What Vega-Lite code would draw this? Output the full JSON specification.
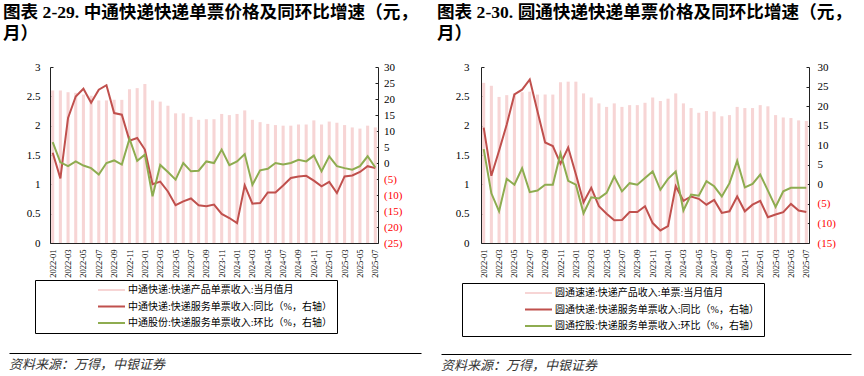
{
  "$schema": "https://vega.github.io/schema/vega-lite/v6.json",
  "padding": {"left": 3, "top": 4, "right": 0, "bottom": 0},
  "config": {
    "view": {"stroke": null},
    "font": "'Liberation Serif', 'Noto Sans CJK SC'",
    "axis": {"grid": false, "domainColor": "#222", "tickColor": "#222", "labelColor": "#000", "labelFont": "'Liberation Serif', 'Noto Sans CJK SC'"},
    "legend": {"labelFont": "'Liberation Serif', 'Noto Sans CJK SC'"},
    "title": {"font": "'Liberation Serif', 'Noto Sans CJK SC'"}
  },
  "datasets": {
    "zto": [
      {"m": "2022-01", "price": 2.60, "yoy": 3.2, "mom": 6.5},
      {"m": "2022-02", "price": 2.60, "yoy": -4.8, "mom": 0.2},
      {"m": "2022-03", "price": 2.57, "yoy": 14.1, "mom": -1.0},
      {"m": "2022-04", "price": 2.56, "yoy": 20.8, "mom": 0.5},
      {"m": "2022-05", "price": 2.53, "yoy": 23.2, "mom": -0.8},
      {"m": "2022-06", "price": 2.51, "yoy": 18.8, "mom": -1.6},
      {"m": "2022-07", "price": 2.43, "yoy": 22.9, "mom": -3.6},
      {"m": "2022-08", "price": 2.43, "yoy": 24.3, "mom": 0.0},
      {"m": "2022-09", "price": 2.44, "yoy": 15.6, "mom": 0.8},
      {"m": "2022-10", "price": 2.44, "yoy": 15.1, "mom": -0.5},
      {"m": "2022-11", "price": 2.62, "yoy": 7.0, "mom": 7.6},
      {"m": "2022-12", "price": 2.64, "yoy": 7.8, "mom": 0.7},
      {"m": "2023-01", "price": 2.71, "yoy": 4.2, "mom": 2.6},
      {"m": "2023-02", "price": 2.43, "yoy": -6.6, "mom": -10.4},
      {"m": "2023-03", "price": 2.41, "yoy": -5.8, "mom": -0.6},
      {"m": "2023-04", "price": 2.34, "yoy": -8.9, "mom": -2.8},
      {"m": "2023-05", "price": 2.21, "yoy": -13.2, "mom": -5.2},
      {"m": "2023-06", "price": 2.21, "yoy": -12.0, "mom": 0.0},
      {"m": "2023-07", "price": 2.15, "yoy": -11.1, "mom": -2.6},
      {"m": "2023-08", "price": 2.10, "yoy": -13.2, "mom": -2.4},
      {"m": "2023-09", "price": 2.11, "yoy": -13.5, "mom": 0.5},
      {"m": "2023-10", "price": 2.11, "yoy": -13.0, "mom": 0.0},
      {"m": "2023-11", "price": 2.20, "yoy": -15.9, "mom": 4.2},
      {"m": "2023-12", "price": 2.18, "yoy": -17.2, "mom": -0.7},
      {"m": "2024-01", "price": 2.20, "yoy": -18.8, "mom": 0.5},
      {"m": "2024-02", "price": 2.26, "yoy": -7.0, "mom": 2.8},
      {"m": "2024-03", "price": 2.10, "yoy": -12.7, "mom": -6.8},
      {"m": "2024-04", "price": 2.06, "yoy": -12.5, "mom": -2.3},
      {"m": "2024-05", "price": 2.03, "yoy": -9.2, "mom": -1.8},
      {"m": "2024-06", "price": 2.01, "yoy": -9.2, "mom": 0.0},
      {"m": "2024-07", "price": 2.00, "yoy": -7.0, "mom": -0.5},
      {"m": "2024-08", "price": 2.00, "yoy": -4.7, "mom": 0.0},
      {"m": "2024-09", "price": 2.02, "yoy": -4.2, "mom": 1.0},
      {"m": "2024-10", "price": 2.02, "yoy": -4.0, "mom": 0.5},
      {"m": "2024-11", "price": 2.09, "yoy": -5.5, "mom": 2.3},
      {"m": "2024-12", "price": 2.02, "yoy": -7.3, "mom": -2.6},
      {"m": "2025-01", "price": 2.07, "yoy": -5.9, "mom": 2.1},
      {"m": "2025-02", "price": 2.05, "yoy": -9.4, "mom": -1.0},
      {"m": "2025-03", "price": 2.01, "yoy": -4.2, "mom": -1.6},
      {"m": "2025-04", "price": 1.97, "yoy": -3.9, "mom": -2.1},
      {"m": "2025-05", "price": 1.95, "yoy": -2.8, "mom": -1.0},
      {"m": "2025-06", "price": 2.00, "yoy": -1.0, "mom": 2.1},
      {"m": "2025-07", "price": 1.97, "yoy": -1.6, "mom": -1.4}
    ],
    "yto": [
      {"m": "2022-01", "price": 2.73, "yoy": 14.5, "mom": 9.0},
      {"m": "2022-02", "price": 2.68, "yoy": 2.2, "mom": -2.3},
      {"m": "2022-03", "price": 2.49, "yoy": 8.6, "mom": -6.9},
      {"m": "2022-04", "price": 2.52, "yoy": 15.3, "mom": 1.4},
      {"m": "2022-05", "price": 2.55, "yoy": 23.0, "mom": -0.1},
      {"m": "2022-06", "price": 2.57, "yoy": 24.2, "mom": 4.1},
      {"m": "2022-07", "price": 2.58, "yoy": 26.8, "mom": -2.0},
      {"m": "2022-08", "price": 2.53, "yoy": 18.7, "mom": -1.6},
      {"m": "2022-09", "price": 2.53, "yoy": 10.7, "mom": -0.1},
      {"m": "2022-10", "price": 2.53, "yoy": 9.8, "mom": -0.1},
      {"m": "2022-11", "price": 2.74, "yoy": 5.3, "mom": 7.9},
      {"m": "2022-12", "price": 2.75, "yoy": 9.4, "mom": 0.9},
      {"m": "2023-01", "price": 2.75, "yoy": 2.6, "mom": -0.1},
      {"m": "2023-02", "price": 2.55, "yoy": -4.6, "mom": -7.4},
      {"m": "2023-03", "price": 2.48, "yoy": -0.9, "mom": -3.3},
      {"m": "2023-04", "price": 2.38, "yoy": -5.6, "mom": -3.6},
      {"m": "2023-05", "price": 2.32, "yoy": -7.5, "mom": -2.2},
      {"m": "2023-06", "price": 2.38, "yoy": -9.2, "mom": 2.0},
      {"m": "2023-07", "price": 2.32, "yoy": -9.1, "mom": -1.8},
      {"m": "2023-08", "price": 2.35, "yoy": -7.1, "mom": 0.3},
      {"m": "2023-09", "price": 2.35, "yoy": -7.1, "mom": -0.1},
      {"m": "2023-10", "price": 2.39, "yoy": -5.6, "mom": 1.6},
      {"m": "2023-11", "price": 2.48, "yoy": -9.9, "mom": 3.3},
      {"m": "2023-12", "price": 2.42, "yoy": -11.8, "mom": -1.4},
      {"m": "2024-01", "price": 2.46, "yoy": -10.7, "mom": 1.4},
      {"m": "2024-02", "price": 2.55, "yoy": -0.5, "mom": 3.3},
      {"m": "2024-03", "price": 2.38, "yoy": -4.2, "mom": -6.7},
      {"m": "2024-04", "price": 2.30, "yoy": -3.1, "mom": -2.6},
      {"m": "2024-05", "price": 2.22, "yoy": -3.7, "mom": -2.9},
      {"m": "2024-06", "price": 2.25, "yoy": -5.2, "mom": 0.8},
      {"m": "2024-07", "price": 2.24, "yoy": -4.0, "mom": -0.5},
      {"m": "2024-08", "price": 2.16, "yoy": -7.3, "mom": -3.1},
      {"m": "2024-09", "price": 2.18, "yoy": -6.9, "mom": 0.3},
      {"m": "2024-10", "price": 2.32, "yoy": -3.1, "mom": 6.0},
      {"m": "2024-11", "price": 2.30, "yoy": -6.9, "mom": -0.8},
      {"m": "2024-12", "price": 2.30, "yoy": -5.2, "mom": 0.1},
      {"m": "2025-01", "price": 2.35, "yoy": -4.2, "mom": 2.5},
      {"m": "2025-02", "price": 2.33, "yoy": -8.4, "mom": -1.6},
      {"m": "2025-03", "price": 2.18, "yoy": -7.7, "mom": -5.8},
      {"m": "2025-04", "price": 2.14, "yoy": -7.1, "mom": -1.8},
      {"m": "2025-05", "price": 2.13, "yoy": -5.0, "mom": -0.9},
      {"m": "2025-06", "price": 2.09, "yoy": -6.7, "mom": -0.9},
      {"m": "2025-07", "price": 2.08, "yoy": -7.1, "mom": -0.9}
    ]
  },
  "spacing": 16,
  "resolve": {"scale": {"color": "independent"}, "legend": {"color": "independent"}},
  "hconcat": [
    {
      "spacing": 15,
      "resolve": {"scale": {"color": "independent"}, "legend": {"color": "independent"}},
      "vconcat": [
        {
          "width": 328,
          "height": 176,
          "data": {"name": "zto"},
          "title": {"text": ["图表 2-29. 中通快递快递单票价格及同环比增速（元，", "月）"], "anchor": "start", "frame": "group", "dx": -47, "fontSize": 17.6, "fontWeight": "bold", "lineHeight": 21, "offset": 18, "color": "#000"},
          "encoding": {
            "x": {"field": "m", "type": "ordinal", "scale": {"paddingInner": 0.6, "paddingOuter": 0.15},
              "axis": {"title": null, "values": ["2022-01","2022-03","2022-05","2022-07","2022-09","2022-11","2023-01","2023-03","2023-05","2023-07","2023-09","2023-11","2024-01","2024-03","2024-05","2024-07","2024-09","2024-11","2025-01","2025-03","2025-05","2025-07"], "labelAngle": -90, "labelFontSize": 8.5, "tickSize": -3, "labelPadding": 9}}
          },
          "layer": [
            {
              "mark": {"type": "bar"},
              "encoding": {
                "y": {"field": "price", "type": "quantitative", "scale": {"domain": [0, 3], "nice": false},
                  "axis": {"title": null, "values": [0, 0.5, 1, 1.5, 2, 2.5, 3], "format": "~g", "labelFontSize": 11, "tickSize": -3, "labelPadding": 13}},
                "color": {"datum": "中通快递:快递产品单票收入:当月值月",
                  "scale": {"domain": ["中通快递:快递产品单票收入:当月值月", "中通快递:快递服务单票收入:同比（%，右轴）", "中通股份:快递服务单票收入:环比（%，右轴）"], "range": ["#f7d5d5", "#c0504d", "#8eac50"]},
                  "legend": {"orient": "none", "legendX": -15, "legendY": 213, "title": null, "direction": "vertical", "strokeColor": "#000", "padding": 5,
                    "symbolType": "stroke", "symbolSize": 729, "symbolStrokeWidth": 2, "symbolOffset": 57, "labelOffset": 2, "labelFontSize": 10, "labelLimit": 500, "rowPadding": 6.5, "clipHeight": 10,
                    "labelExpr": "datum.label + '　　　　　　　　　　　'",
                    "encode": {"symbols": {"update": {
                      "stroke": {"condition": [{"test": "datum.value === '中通快递:快递产品单票收入:当月值月'", "value": "#f7d5d5"}, {"test": "datum.value === '中通快递:快递服务单票收入:同比（%，右轴）'", "value": "#c0504d"}], "value": "#8eac50"},
                      "strokeWidth": {"condition": {"test": "datum.value === '中通快递:快递产品单票收入:当月值月'", "value": 6}, "value": 2},
                      "fill": {"value": "transparent"},
                      "opacity": {"value": 1}}}}}}
              }
            },
            {
              "layer": [
                {
                  "mark": {"type": "line", "strokeWidth": 2},
                  "encoding": {
                    "y": {"field": "yoy", "type": "quantitative", "scale": {"domain": [-25, 30], "nice": false},
                      "axis": {"orient": "right", "title": null, "values": [-25, -20, -15, -10, -5, 0, 5, 10, 15, 20, 25, 30], "labelExpr": "datum.value < 0 ? '(' + (-datum.value) + ')' : '' + datum.value", "labelColor": {"condition": {"test": "datum.value < 0", "value": "#ff0000"}, "value": "#000000"}, "labelAlign": "left", "labelFontSize": 11, "tickSize": -3, "labelPadding": 8.5}},
                    "color": {"datum": "中通快递:快递服务单票收入:同比（%，右轴）"}
                  }
                },
                {
                  "mark": {"type": "line", "strokeWidth": 2},
                  "encoding": {
                    "y": {"field": "mom", "type": "quantitative", "scale": {"domain": [-25, 30], "nice": false},
                      "axis": {"orient": "right", "title": null, "values": [-25, -20, -15, -10, -5, 0, 5, 10, 15, 20, 25, 30], "labelExpr": "datum.value < 0 ? '(' + (-datum.value) + ')' : '' + datum.value", "labelColor": {"condition": {"test": "datum.value < 0", "value": "#ff0000"}, "value": "#000000"}, "labelAlign": "left", "labelFontSize": 11, "tickSize": -3, "labelPadding": 8.5}},
                    "color": {"datum": "中通股份:快递服务单票收入:环比（%，右轴）"}
                  }
                }
              ]
            }
          ],
          "resolve": {"scale": {"y": "independent"}}
        },
        {
          "width": 328,
          "height": 1,
          "data": {"values": [{"note": "资料来源：万得，中银证券"}]},
          "mark": {"type": "point", "opacity": 0},
          "encoding": {
            "x": {"datum": 0, "type": "quantitative", "scale": {"domain": [0, 1], "range": [0, 412]},
              "axis": {"orient": "bottom", "position": -41, "domain": true, "domainColor": "#000", "domainWidth": 1, "ticks": false, "labels": false, "title": null, "grid": false}}
          },
          "title": {"text": "资料来源：万得，中银证券", "orient": "bottom", "anchor": "start", "frame": "group", "dx": -41, "offset": 4, "fontSize": 13, "fontStyle": "italic", "fontWeight": "normal", "color": "#333"}
        }
      ]
    },
    {
      "spacing": 13,
      "resolve": {"scale": {"color": "independent"}, "legend": {"color": "independent"}},
      "vconcat": [
        {
          "width": 328,
          "height": 176,
          "data": {"name": "yto"},
          "title": {"text": ["图表 2-30. 圆通快递快递单票价格及同环比增速（元，", "月）"], "anchor": "start", "frame": "group", "dx": -44, "fontSize": 17.6, "fontWeight": "bold", "lineHeight": 21, "offset": 18, "color": "#000"},
          "encoding": {
            "x": {"field": "m", "type": "ordinal", "scale": {"paddingInner": 0.6, "paddingOuter": 0.15},
              "axis": {"title": null, "values": ["2022-01","2022-03","2022-05","2022-07","2022-09","2022-11","2023-01","2023-03","2023-05","2023-07","2023-09","2023-11","2024-01","2024-03","2024-05","2024-07","2024-09","2024-11","2025-01","2025-03","2025-05","2025-07"], "labelAngle": -90, "labelFontSize": 8.5, "tickSize": -3, "labelPadding": 9}}
          },
          "layer": [
            {
              "mark": {"type": "bar"},
              "encoding": {
                "y": {"field": "price", "type": "quantitative", "scale": {"domain": [0, 3], "nice": false},
                  "axis": {"title": null, "values": [0, 0.5, 1, 1.5, 2, 2.5, 3], "format": "~g", "labelFontSize": 11, "tickSize": -3, "labelPadding": 15}},
                "color": {"datum": "圆通速递:快递产品收入:单票:当月值月",
                  "scale": {"domain": ["圆通速递:快递产品收入:单票:当月值月", "圆通快递:快递服务单票收入:同比（%，右轴）", "圆通控股:快递服务单票收入:环比（%，右轴）"], "range": ["#f7d5d5", "#c0504d", "#8eac50"]},
                  "legend": {"orient": "none", "legendX": -19, "legendY": 216, "title": null, "direction": "vertical", "strokeColor": "#000", "padding": 5,
                    "symbolType": "stroke", "symbolSize": 729, "symbolStrokeWidth": 2, "symbolOffset": 57, "labelOffset": 2, "labelFontSize": 10, "labelLimit": 500, "rowPadding": 6.5, "clipHeight": 10,
                    "labelExpr": "datum.label + '　　　　　　　　　　　'",
                    "encode": {"symbols": {"update": {
                      "stroke": {"condition": [{"test": "datum.value === '圆通速递:快递产品收入:单票:当月值月'", "value": "#f7d5d5"}, {"test": "datum.value === '圆通快递:快递服务单票收入:同比（%，右轴）'", "value": "#c0504d"}], "value": "#8eac50"},
                      "strokeWidth": {"condition": {"test": "datum.value === '圆通速递:快递产品收入:单票:当月值月'", "value": 6}, "value": 2},
                      "fill": {"value": "transparent"},
                      "opacity": {"value": 1}}}}}}
              }
            },
            {
              "layer": [
                {
                  "mark": {"type": "line", "strokeWidth": 2},
                  "encoding": {
                    "y": {"field": "yoy", "type": "quantitative", "scale": {"domain": [-15, 30], "nice": false},
                      "axis": {"orient": "right", "title": null, "values": [-15, -10, -5, 0, 5, 10, 15, 20, 25, 30], "labelExpr": "datum.value < 0 ? '(' + (-datum.value) + ')' : '' + datum.value", "labelColor": {"condition": {"test": "datum.value < 0", "value": "#ff0000"}, "value": "#000000"}, "labelAlign": "left", "labelFontSize": 11, "tickSize": -3, "labelPadding": 11}},
                    "color": {"datum": "圆通快递:快递服务单票收入:同比（%，右轴）"}
                  }
                },
                {
                  "mark": {"type": "line", "strokeWidth": 2},
                  "encoding": {
                    "y": {"field": "mom", "type": "quantitative", "scale": {"domain": [-15, 30], "nice": false},
                      "axis": {"orient": "right", "title": null, "values": [-15, -10, -5, 0, 5, 10, 15, 20, 25, 30], "labelExpr": "datum.value < 0 ? '(' + (-datum.value) + ')' : '' + datum.value", "labelColor": {"condition": {"test": "datum.value < 0", "value": "#ff0000"}, "value": "#000000"}, "labelAlign": "left", "labelFontSize": 11, "tickSize": -3, "labelPadding": 11}},
                    "color": {"datum": "圆通控股:快递服务单票收入:环比（%，右轴）"}
                  }
                }
              ]
            }
          ],
          "resolve": {"scale": {"y": "independent"}}
        },
        {
          "width": 328,
          "height": 1,
          "data": {"values": [{"note": "资料来源：万得，中银证券"}]},
          "mark": {"type": "point", "opacity": 0},
          "encoding": {
            "x": {"datum": 0, "type": "quantitative", "scale": {"domain": [0, 1], "range": [0, 410]},
              "axis": {"orient": "bottom", "position": -40, "domain": true, "domainColor": "#000", "domainWidth": 1, "ticks": false, "labels": false, "title": null, "grid": false}}
          },
          "title": {"text": "资料来源：万得，中银证券", "orient": "bottom", "anchor": "start", "frame": "group", "dx": -40, "offset": 4, "fontSize": 13, "fontStyle": "italic", "fontWeight": "normal", "color": "#333"}
        }
      ]
    }
  ]
}
